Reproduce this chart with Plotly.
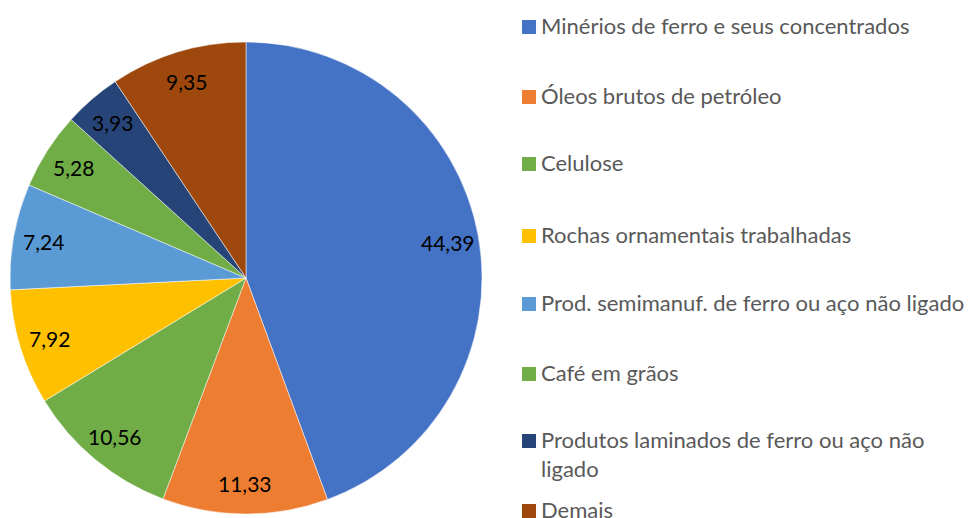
import math
import plotly.graph_objects as go

labels = [
    "Minérios de ferro e seus concentrados",
    "Óleos brutos de petróleo",
    "Celulose",
    "Rochas ornamentais trabalhadas",
    "Prod. semimanuf. de ferro ou aço não ligado",
    "Café em grãos",
    "Produtos laminados de ferro ou aço não<br>ligado",
    "Demais",
]
values = [44.39, 11.33, 10.56, 7.92, 7.24, 5.28, 3.93, 9.35]
colors = ["#4472C4", "#ED7D31", "#70AD47", "#FFC000", "#5B9BD5", "#70AD47", "#264478", "#9E480E"]

# figure is placed at an 8px body margin inside the 978x518 window
W, H = 970, 510
FONT = "Lato"
CX, CY, R = 238, 270, 236  # pie centre / radius in figure pixels

fig = go.Figure()
fig.add_trace(go.Pie(
    labels=labels,
    values=values,
    sort=False,
    direction="clockwise",
    rotation=0,
    marker=dict(colors=colors, line=dict(color="white", width=0.5)),
    textinfo="none",
    domain=dict(x=[(CX - R) / W, (CX + R) / W], y=[1 - (CY + R) / H, 1 - (CY - R) / H]),
    showlegend=False,
    hoverinfo="label+value",
))

annotations = []
shapes = []

# data labels near the outer part of each slice (Excel "best fit" style)
total = sum(values)
cum = 0.0
for v in values:
    mid = (cum + v / 2) / total * 2 * math.pi
    cum += v
    rr = 0.87 * R
    px = CX + rr * math.sin(mid)
    py = CY - rr * math.cos(mid)
    annotations.append(dict(xref="paper", yref="paper", x=px / W, y=1 - py / H,
                            xanchor="center", yanchor="middle", showarrow=False,
                            text=f"{v:.2f}".replace(".", ","),
                            font=dict(family=FONT, size=21, color="black")))

# manual legend (Excel-style spacing)
legend_y = [19, 89, 156, 228, 296, 366, 433, 503]
for i, (lab, col) in enumerate(zip(labels, colors)):
    y = legend_y[i]
    shapes.append(dict(type="rect", xref="paper", yref="paper",
                       x0=514 / W, x1=528 / W, y0=1 - (y + 7) / H, y1=1 - (y - 7) / H,
                       fillcolor=col, line=dict(width=0)))
    annotations.append(dict(xref="paper", yref="paper", x=531 / W, y=1 - (y - 17) / H,
                            xanchor="left", yanchor="top", align="left",
                            text=lab, showarrow=False,
                            font=dict(family=FONT, size=22, color="#595959")))

fig.update_layout(
    width=W, height=H,
    margin=dict(l=0, r=0, t=0, b=0),
    paper_bgcolor="white",
    plot_bgcolor="white",
    separators=",.",
    shapes=shapes,
    annotations=annotations,
)
fig.write_html("out.html")
